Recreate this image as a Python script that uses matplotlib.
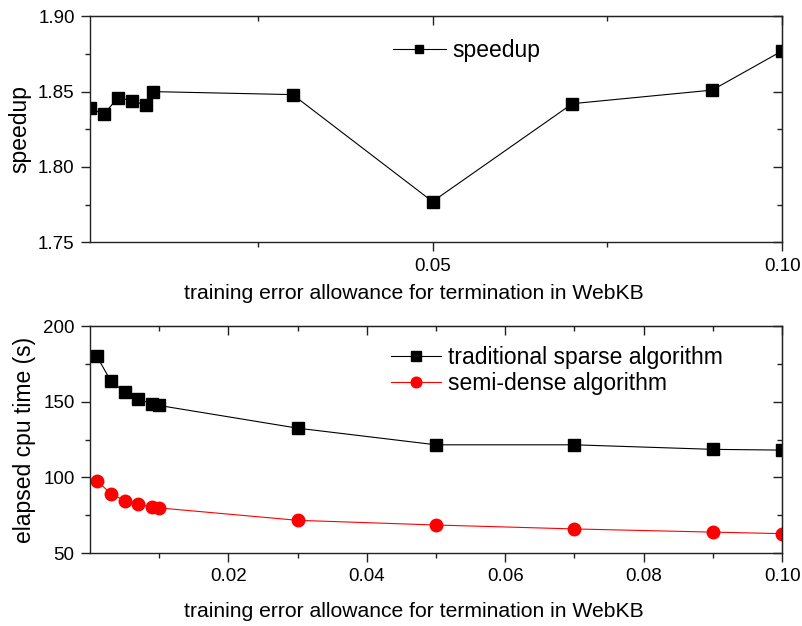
import matplotlib
matplotlib.use("Agg")
import matplotlib.pyplot as plt
from matplotlib.ticker import MultipleLocator, FixedLocator, FormatStrFormatter

plt.rcParams['font.family'] = ['Liberation Sans', 'DejaVu Sans']

# training error allowance values
x = [0.001, 0.003, 0.005, 0.007, 0.009, 0.01, 0.03, 0.05, 0.07, 0.09, 0.10]
speedup = [1.839, 1.835, 1.846, 1.844, 1.841, 1.850, 1.848, 1.777, 1.842, 1.851, 1.877]
sparse_time = [180.0, 163.8, 156.3, 151.8, 148.5, 147.5, 132.5, 121.5, 121.5, 118.5, 118.0]
semi_dense_time = [97.8, 89.3, 84.6, 82.3, 80.5, 79.8, 71.6, 68.5, 65.9, 63.8, 62.8]

top_major = [0.05, 0.10]
top_minor = [0.025, 0.075]
bot_major = [0.02, 0.04, 0.06, 0.08, 0.10]
bot_minor = [0.01, 0.03, 0.05, 0.07, 0.09]

xlabel = "training error allowance for termination in WebKB"

fig = plt.figure(figsize=(8.03, 6.26), dpi=100)
ax1 = fig.add_axes([0.112, 0.613, 0.862, 0.361])
ax2 = fig.add_axes([0.112, 0.1166, 0.862, 0.3626])


def style_axes(ax, xmaj, xmin, ymaj, ymin):
    for s in ax.spines.values():
        s.set_linewidth(1.0)
        s.set_color('#222222')
    ax.tick_params(which='both', direction='out', width=1.0, labelsize=13.5,
                   top=False, right=False, pad=4.5, color='#222222')
    ax.tick_params(which='major', length=6.5)
    ax.tick_params(which='minor', length=3.5)
    ax.xaxis.set_major_locator(FixedLocator(xmaj))
    ax.xaxis.set_minor_locator(FixedLocator(xmin))
    ax.yaxis.set_major_locator(MultipleLocator(ymaj))
    ax.yaxis.set_minor_locator(MultipleLocator(ymin))
    # mirrored ticks on top/right pointing inward
    sec_x = ax.secondary_xaxis('top')
    sec_x.tick_params(which='both', direction='in', labeltop=False, width=1.0,
                      color='#222222')
    sec_x.tick_params(which='major', length=6.5)
    sec_x.tick_params(which='minor', length=3.5)
    sec_x.xaxis.set_major_locator(FixedLocator(xmaj))
    sec_x.xaxis.set_minor_locator(FixedLocator(xmin))
    sec_y = ax.secondary_yaxis('right')
    sec_y.tick_params(which='both', direction='in', labelright=False, width=1.0,
                      color='#222222')
    sec_y.tick_params(which='major', length=6.5)
    sec_y.tick_params(which='minor', length=3.5)
    sec_y.yaxis.set_major_locator(MultipleLocator(ymaj))
    sec_y.yaxis.set_minor_locator(MultipleLocator(ymin))


# top panel: speedup
ax1.plot(x, speedup, color='black', lw=0.8, marker='s', ms=8.5,
         label='speedup')
ax1.set_xlim(0.001, 0.1)
ax1.set_ylim(1.75, 1.90)
style_axes(ax1, top_major, top_minor, 0.05, 0.025)
ax1.xaxis.set_major_formatter(FormatStrFormatter('%.2f'))
ax1.yaxis.set_major_formatter(FormatStrFormatter('%.2f'))
ax1.set_xlabel(xlabel, fontsize=15.2, labelpad=7)
ax1.xaxis.label.set_x(0.468)
ax1.set_ylabel("speedup", fontsize=16.5, labelpad=5)
ax1.legend(loc='center left', bbox_to_anchor=(0.438, 0.85), frameon=False,
           fontsize=16.5, handlelength=2.3, handletextpad=0.3,
           borderpad=0, borderaxespad=0, markerscale=0.6)

# bottom panel: elapsed time
ax2.plot(x, sparse_time, color='black', lw=0.8, marker='s', ms=8.5,
         label='traditional sparse algorithm')
ax2.plot(x, semi_dense_time, color='red', lw=0.8, marker='o', ms=9,
         label='semi-dense algorithm')
ax2.set_xlim(0.0, 0.1)
ax2.set_ylim(50, 200)
style_axes(ax2, bot_major, bot_minor, 50, 25)
ax2.xaxis.set_major_formatter(FormatStrFormatter('%.2f'))
ax2.set_xlabel(xlabel, fontsize=15.2, labelpad=12)
ax2.xaxis.label.set_x(0.468)
ax2.set_ylabel("elapsed cpu time (s)", fontsize=16.5, labelpad=5)
ax2.legend(loc='center left', bbox_to_anchor=(0.435, 0.804), frameon=False,
           fontsize=16.5, handlelength=2.2, handletextpad=0.3,
           borderpad=0, borderaxespad=0, labelspacing=0.15,
           markerscale=0.85)

fig.savefig("out.png", dpi=100)
